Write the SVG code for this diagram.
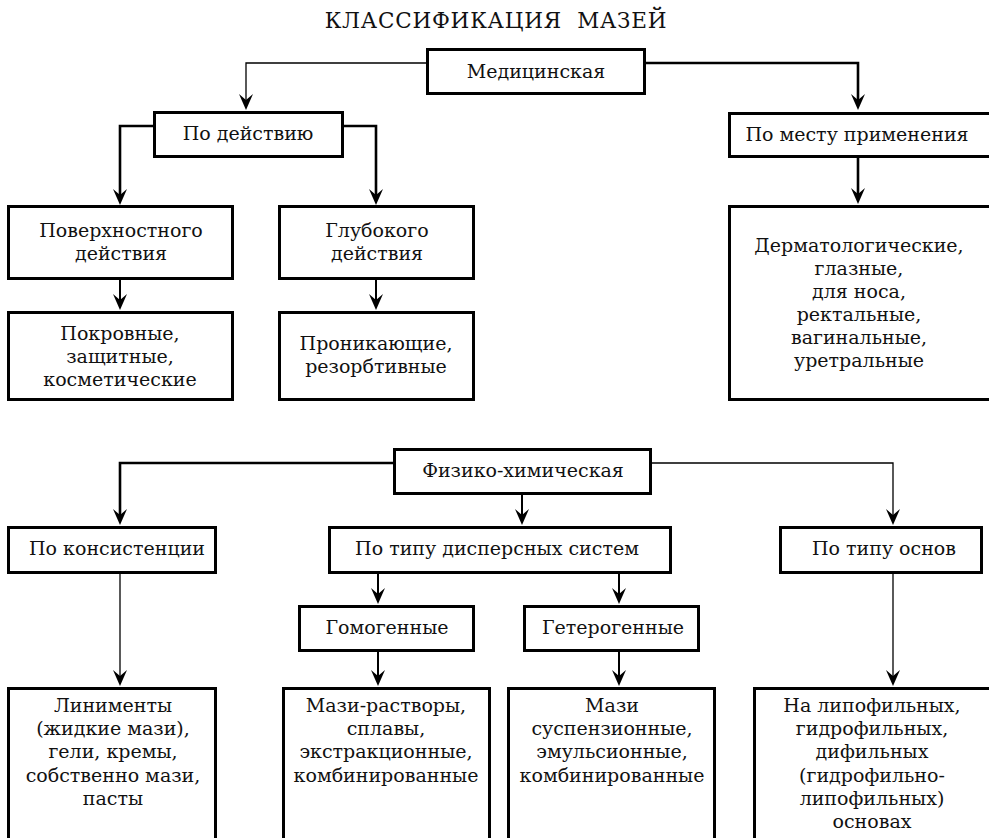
<svg xmlns="http://www.w3.org/2000/svg" width="989" height="838" viewBox="0 0 989 838">
<style>
text{font-family:"DejaVu Serif","Liberation Serif",serif;font-size:19px;fill:#111;text-anchor:middle}
#title{font-size:21.5px;letter-spacing:0.8px}
.box{fill:#fff;stroke:#000;stroke-width:3}
.c{fill:none;stroke:#000;stroke-width:2}
.t{stroke-width:1.3}
.k{stroke-width:2.6}
</style>
<defs>
<marker id="ah" viewBox="-17 -8 18 16" refX="-10" refY="0" markerWidth="18" markerHeight="16" markerUnits="userSpaceOnUse" orient="auto">
<path d="M0,0 L-16,-7 L-10,0 L-16,7 Z" fill="#000"/>
</marker>
</defs>
<rect width="989" height="838" fill="#fff"/>
<text id="title" x="496" y="28" xml:space="preserve">КЛАССИФИКАЦИЯ  МАЗЕЙ</text>
<g id="connectors">
<path class="c t" d="M427,63 H246 V100" marker-end="url(#ah)"/>
<path class="c k" d="M645,63 H858 V100" marker-end="url(#ah)"/>
<path class="c k" d="M154,126 H120 V195" marker-end="url(#ah)"/>
<path class="c k" d="M343,126 H376 V195" marker-end="url(#ah)"/>
<path class="c" d="M120,280 V300" marker-end="url(#ah)"/>
<path class="c" d="M376,280 V300" marker-end="url(#ah)"/>
<path class="c k" d="M858,157 V194" marker-end="url(#ah)"/>
<path class="c k" d="M394,463 H120 V515" marker-end="url(#ah)"/>
<path class="c" d="M522,495 V515" marker-end="url(#ah)"/>
<path class="c t" d="M651,463 H893 V515" marker-end="url(#ah)"/>
<path class="c" d="M378,574 V594" marker-end="url(#ah)"/>
<path class="c" d="M619,574 V594" marker-end="url(#ah)"/>
<path class="c t" d="M120,574 V676" marker-end="url(#ah)"/>
<path class="c" d="M378,652 V676" marker-end="url(#ah)"/>
<path class="c" d="M619,652 V676" marker-end="url(#ah)"/>
<path class="c t" d="M893,574 V676" marker-end="url(#ah)"/>
</g>
<g id="n-med"><rect class="box" x="427.5" y="49.5" width="217" height="44"/><text x="536" y="78">Медицинская</text></g>
<g id="n-deistv"><rect class="box" x="154.5" y="112.5" width="188" height="44"/><text x="248" y="140">По действию</text></g>
<g id="n-mesto"><rect class="box" x="729.5" y="113.5" width="262" height="43"/><text x="857" y="141">По месту применения</text></g>
<g id="n-poverh"><rect class="box" x="8.5" y="206.5" width="224" height="72"/><text x="121" y="237">Поверхностного</text><text x="121" y="260">действия</text></g>
<g id="n-glub"><rect class="box" x="279.5" y="206.5" width="194" height="72"/><text x="377" y="237">Глубокого</text><text x="377" y="260">действия</text></g>
<g id="n-pokrov"><rect class="box" x="8.5" y="312.5" width="224" height="87"/><text x="120" y="340">Покровные,</text><text x="120" y="363">защитные,</text><text x="120" y="386">косметические</text></g>
<g id="n-pronik"><rect class="box" x="279.5" y="312.5" width="194" height="87"/><text x="376" y="350">Проникающие,</text><text x="376" y="373">резорбтивные</text></g>
<g id="n-derm"><rect class="box" x="729.5" y="206.5" width="262" height="193"/><text x="859" y="252">Дерматологические,</text><text x="859" y="275">глазные,</text><text x="859" y="298">для носа,</text><text x="859" y="321">ректальные,</text><text x="859" y="344">вагинальные,</text><text x="859" y="367">уретральные</text></g>
<g id="n-fiz"><rect class="box" x="394.5" y="449.5" width="256" height="44"/><text x="523" y="477">Физико-химическая</text></g>
<g id="n-kons"><rect class="box" x="8.5" y="527.5" width="207" height="45"/><text x="117" y="555">По консистенции</text></g>
<g id="n-disp"><rect class="box" x="329.5" y="527.5" width="341" height="45"/><text x="497" y="555">По типу дисперсных систем</text></g>
<g id="n-osnov"><rect class="box" x="780.5" y="527.5" width="201" height="45"/><text x="884" y="555">По типу основ</text></g>
<g id="n-gomo"><rect class="box" x="299.5" y="606.5" width="174" height="44"/><text x="387" y="634">Гомогенные</text></g>
<g id="n-getero"><rect class="box" x="524.5" y="606.5" width="174" height="44"/><text x="613" y="634">Гетерогенные</text></g>
<g id="n-lin"><rect class="box" x="8.5" y="688.5" width="207" height="160"/><text x="113" y="712">Линименты</text><text x="113" y="735">(жидкие мази),</text><text x="113" y="758">гели, кремы,</text><text x="113" y="782">собственно мази,</text><text x="113" y="805">пасты</text></g>
<g id="n-rastv"><rect class="box" x="283.5" y="688.5" width="206" height="160"/><text x="386" y="712">Мази-растворы,</text><text x="386" y="735">сплавы,</text><text x="386" y="758">экстракционные,</text><text x="386" y="782">комбинированные</text></g>
<g id="n-susp"><rect class="box" x="508.5" y="688.5" width="206" height="160"/><text x="612" y="712">Мази</text><text x="612" y="735">суспензионные,</text><text x="612" y="758">эмульсионные,</text><text x="612" y="782">комбинированные</text></g>
<g id="n-lipo"><rect class="box" x="754.5" y="688.5" width="237" height="160"/><text x="872" y="712">На липофильных,</text><text x="872" y="735">гидрофильных,</text><text x="872" y="758">дифильных</text><text x="872" y="782">(гидрофильно-</text><text x="872" y="805">липофильных)</text><text x="872" y="828">основах</text></g>
</svg>
